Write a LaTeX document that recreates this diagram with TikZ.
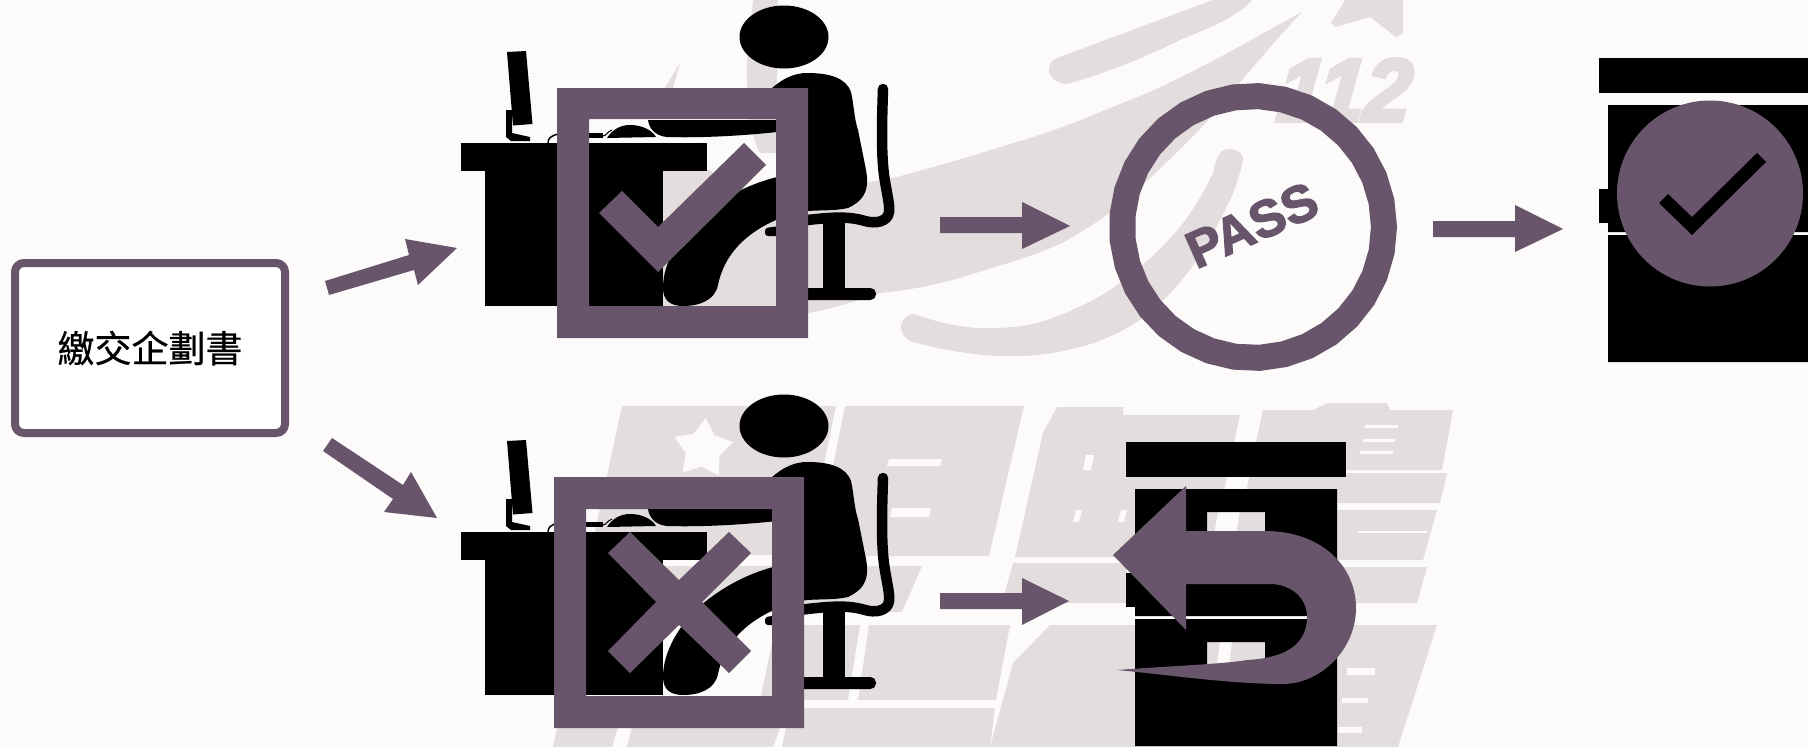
\documentclass[tikz,border=0pt]{standalone}
\usepackage{fontspec}
\usetikzlibrary{shapes.geometric}
\newfontfamily\cjkfont{Noto Sans CJK TC}[FakeBold=0.6]
\newfontfamily\passfont{Liberation Sans}[FakeBold=2.5]
\newfontfamily\wmfont{Liberation Sans}[FakeBold=5]
\definecolor{bgc}{HTML}{FDFBFA}
\definecolor{wm}{HTML}{E3DDDD}
\definecolor{pur}{HTML}{68546B}
\tikzset{
  wmark/.style={fill=wm,draw=none},
  wgap/.style={fill=bgc,draw=none},
  ink/.style={fill=black,draw=none},
  inkline/.style={draw=black,line cap=round,line join=round,fill=none},
  purp/.style={fill=pur,draw=none},
  framebox/.style={fill=pur,draw=none,even odd rule}
}
\newcommand{\officefigure}{%
  \fill[ink] (784,37) ellipse [x radius=44.5,y radius=31.5];
  % torso
  \fill[ink] (771,89) .. controls (783,78) and (795,73) .. (807,73)
    .. controls (830,73) and (846,78) .. (851,92) .. controls (854,105) and (854,118) .. (858,130)
    -- (866,170) .. controls (869,187) and (867,199) .. (848,208)
    .. controls (835,211) and (820,210) .. (808,211) -- (780,214) -- (780,89) -- cycle;
  % arm
  \fill[ink] (648,120) .. controls (649,128) and (655,136) .. (667,137)
    .. controls (700,138) and (740,136) .. (777,132) -- (790,120) -- cycle;
  % leg
  \fill[ink] (790,172) -- (777,177) .. controls (745,185) and (720,200) .. (700,217)
    .. controls (680,235) and (663,262) .. (663,288)
    .. controls (663,300) and (670,306) .. (683,306)
    .. controls (700,306) and (715,300) .. (718,285)
    .. controls (722,265) and (735,238) .. (776,220) -- (790,215) -- cycle;
  \fill[ink,rounded corners=3pt] (765,228) -- (780,226) -- (780,236) -- (765,236) -- cycle;
  % chair
  \draw[inkline,line width=10.5pt] (883,89) .. controls (882,120) and (881,150) .. (884,175)
    .. controls (887,195) and (890,205) .. (889,212) .. controls (888,222) and (875,224) .. (865,221)
    .. controls (845,215) and (825,218) .. (790,222);
  \fill[ink] (823,222) rectangle (845,290);
  \fill[ink,rounded corners=5.5pt] (780,288) rectangle (876,300);
  % desk
  \fill[ink] (461,143) rectangle (707,171);
  \fill[ink] (485,171) rectangle (663,306);
  % monitor and stand
  \fill[ink] (507,52) -- (526,51) -- (532.5,124) -- (513,125.5) -- cycle;
  \fill[ink] (506,110) -- (512,110) -- (512,133) -- (530,137) -- (530,141) -- (511,141) -- (506,137) -- cycle;
  % keyboard, cable, mouse
  \draw[black,line width=1.5pt] (548,143) .. controls (548,138) and (551,136) .. (558,134);
  \fill[ink] (585,133) rectangle (603,138);
  \fill[ink] (607,138) .. controls (612,130) and (620,125) .. (630,125)
    .. controls (642,125) and (652,130) .. (656,137) -- cycle;
  \draw[black,line width=1pt] (603,136) .. controls (606,136) and (607,132) .. (612,130);
}
\newcommand{\paperfigure}{%
  \fill[ink] (1126,442) rectangle (1346,477);
  \fill[ink,even odd rule] (1135,489) rectangle (1337,616) (1207,512) rectangle (1265,545);
  \fill[ink,even odd rule] (1135,619) rectangle (1337,746) (1207,642) rectangle (1265,664);
  \fill[ink] (1126,573) rectangle (1135,607);
}
\begin{document}
\begin{tikzpicture}[x=1pt,y=-1pt]
\useasboundingbox (0,0) rectangle (1808,747);
\fill[bgc] (0,0) rectangle (1808,747);

%% watermark, upper
\fill[wmark] (1213,0) -- (1057,58) .. controls (1045,63) and (1045,82) .. (1067,84)
  .. controls (1110,72) and (1150,55) .. (1180,40) .. controls (1210,28) and (1240,15) .. (1252,0) -- cycle;
\fill[wmark] (1302,12) .. controls (1250,40) and (1200,70) .. (1147,93)
  .. controls (1100,112) and (1060,130) .. (1013,143) .. controls (970,157) and (930,168) .. (897,177)
  -- (740,205) -- (710,170) -- (663,170) -- (650,320) -- (808,313)
  .. controls (835,308) and (860,300) .. (880,293) .. controls (910,290) and (935,285) .. (963,277)
  .. controls (1000,265) and (1040,255) .. (1067,240) .. controls (1100,222) and (1120,205) .. (1140,187)
  .. controls (1170,160) and (1195,135) .. (1220,107) .. controls (1250,70) and (1280,35) .. (1302,12) -- cycle;
\fill[wmark] (1228,149) .. controls (1240,149) and (1245,155) .. (1242,165)
  .. controls (1238,180) and (1233,195) .. (1228,204) .. controls (1218,225) and (1207,245) .. (1197,260)
  .. controls (1178,287) and (1160,305) .. (1140,320) .. controls (1120,333) and (1100,342) .. (1080,347)
  .. controls (1050,355) and (1025,357) .. (997,356) .. controls (965,354) and (940,349) .. (913,342)
  .. controls (897,337) and (897,316) .. (913,314) .. controls (935,321) and (955,327) .. (980,328)
  .. controls (1005,329) and (1030,326) .. (1047,320) .. controls (1075,310) and (1100,298) .. (1120,283)
  .. controls (1145,265) and (1165,245) .. (1180,227) .. controls (1195,208) and (1205,190) .. (1213,173)
  .. controls (1216,160) and (1218,150) .. (1228,149) -- cycle;
\fill[wmark] (753,0) -- (747,60) .. controls (746,100) and (750,135) .. (760,153) -- (776,153) -- (778,0) -- cycle;
\fill[wmark] (680,63) -- (665,88) -- (673,88) -- cycle;
\fill[wmark] (1331,23) -- (1345,0) -- (1403,0) -- (1403,33) -- (1396,37) -- (1370,17) -- (1335,27) -- cycle;
\node[text=wm,font=\wmfont\bfseries\itshape\fontsize{88}{88}\selectfont,inner sep=0pt,xscale=0.95,xslant=0.1] (wm112) at (1345,90) {112};

%% watermark, lower: block characters
\fill[wmark] (622,406) -- (836,406) -- (805,555) -- (590,555) -- cycle;
\fill[wmark] (845,406) -- (1024,406) -- (989,556) -- (815,556) -- cycle;
\fill[wmark] (590,566) -- (922,566) -- (902,612) -- (580,612) -- cycle;
\fill[wmark] (776,625) -- (860,625) -- (848,700) -- (760,700) -- cycle;
\fill[wmark] (869,625) -- (1010,625) -- (996,700) -- (858,700) -- cycle;
\fill[wmark] (560,715) -- (622,715) -- (612,747) -- (553,747) -- cycle;
\fill[wmark] (635,715) -- (785,715) -- (773,747) -- (627,747) -- cycle;
\fill[wmark] (790,708) -- (995,708) -- (990,747) -- (782,747) -- cycle;
\fill[wmark] (1057,407) -- (1123,407) -- (1123,415) -- (1240,415) -- (1210,557) -- (1015,557) -- (1043,433) -- cycle;
\fill[wmark] (1013,563) -- (1127,563) -- (1127,603) -- (1002,603) -- cycle;
\fill[wmark] (1050,625) -- (1437,625) -- (1398,747) -- (990,747) -- (1013,663) -- cycle;
\fill[wmark] (1263,410) -- (1313,410) -- (1328,403) -- (1387,403) -- (1390,410) -- (1453,410) -- (1442,470) -- (1250,470) -- cycle;
\fill[wmark] (1250,473) -- (1447,473) -- (1440,503) -- (1244,503) -- cycle;
\fill[wmark] (1240,510) -- (1437,510) -- (1423,560) -- (1232,560) -- cycle;
\fill[wmark] (1230,567) -- (1427,567) -- (1417,603) -- (1222,603) -- cycle;
% light marks in the watermark
\node[star,star points=5,star point ratio=1.75,fill=bgc,draw=none,minimum size=62pt,inner sep=0pt,shape border rotate=-5] (wmstar) at (703,449) {};
\fill[wgap] (889,459) -- (942,459) -- (940,466) -- (887,466) -- cycle;
\fill[wgap] (892,508) -- (931,508) -- (929,517) -- (890,517) -- cycle;
\fill[wgap] (1086,455) -- (1094,455) -- (1091,470) -- (1083,470) -- cycle;
\fill[wgap] (1076,510) -- (1082,510) -- (1079,522) -- (1073,522) -- cycle;
\fill[wgap] (1121,510) -- (1127,510) -- (1124,522) -- (1118,522) -- cycle;
\fill[wgap] (1365,425) rectangle (1398,428);
\fill[wgap] (1363,439) rectangle (1395,442);
\fill[wgap] (1360,451) rectangle (1393,454);
\fill[wgap] (1358,531) rectangle (1427,533);
\fill[wgap] (1347,668) rectangle (1375,675);
\fill[wgap] (1342,698) rectangle (1368,703);
\fill[wgap] (1338,727) rectangle (1362,733);
\fill[wgap] (1218,512) -- (1236,512) -- (1231,540) -- (1213,540) -- cycle;
\fill[wgap] (1220,642) -- (1232,642) -- (1228,672) -- (1216,672) -- cycle;

%% office figures
\officefigure
\begin{scope}[shift={(0,389)}]\officefigure\end{scope}

%% documents
\paperfigure
\begin{scope}[shift={(473,-384)}]\paperfigure\end{scope}

%% start box
\node[draw=pur,fill=white,line width=8pt,rounded corners=9pt,minimum width=270pt,minimum height=170pt,inner sep=0pt,
  font=\cjkfont\fontsize{37}{40}\selectfont] (start) at (150,348) {繳交企劃書};

%% block arrows
\fill[purp] (325,281) -- (409,255) -- (405,239) -- (457,248) -- (418,285) -- (414,270) -- (329,295) -- cycle;
\fill[purp] (332,438) -- (403,485) -- (411,472) -- (437,518) -- (384,512) -- (393,499) -- (323,451) -- cycle;
\fill[purp] (940,217) -- (1022,217) -- (1022,202) -- (1070,226) -- (1022,249) -- (1022,233) -- (940,233) -- cycle;
\fill[purp] (940,593) -- (1022,593) -- (1022,578) -- (1069,601) -- (1022,625) -- (1022,609) -- (940,609) -- cycle;
\fill[purp] (1433,221) -- (1515,221) -- (1515,205) -- (1563,229) -- (1515,252) -- (1515,237) -- (1433,237) -- cycle;

%% check frame
\fill[framebox] (557,88) rectangle (808,338) (589,119) rectangle (776,306);
\fill[purp] (599,213) -- (622,191) -- (658,227) -- (744,143) -- (766,165) -- (658,272) -- cycle;

%% cross frame
\fill[framebox] (554,477) rectangle (804,728) (586,509) rectangle (772,696);
\fill[purp] (608,553) -- (630,532) -- (679,580) -- (729,532) -- (751,553) -- (702,602) -- (751,651)
  -- (729,673) -- (679,625) -- (630,673) -- (608,651) -- (656,602) -- cycle;

%% pass stamp
\draw[pur,line width=26pt,line join=miter] plot[samples=33,domain=0:348.75] ({1253+131*cos(\x)},{227+131*sin(\x)}) -- cycle;
\node[text=pur,font=\passfont\bfseries\fontsize{52}{52}\selectfont,rotate=24,inner sep=0pt] (pass) at (1252,225) {PASS};

%% approved badge
\fill[pur] (1710,193.5) circle [radius=93];
\fill[ink] (1659,203) -- (1668,194) -- (1692,217) -- (1757,153) -- (1766,162) -- (1692,235) -- cycle;

%% return arrow
\fill[purp] (1113,555) -- (1186,486) -- (1186,531) -- (1265,531)
  .. controls (1320,531) and (1356,565) .. (1356,608)
  .. controls (1356,650) and (1320,684) .. (1283,684)
  .. controls (1230,684) and (1170,675) .. (1117,670)
  .. controls (1170,666) and (1225,664) .. (1247,660)
  .. controls (1285,658) and (1307,645) .. (1307,617)
  .. controls (1307,597) and (1290,584) .. (1270,584)
  -- (1186,584) -- (1186,630) -- cycle;
\end{tikzpicture}
\end{document}
